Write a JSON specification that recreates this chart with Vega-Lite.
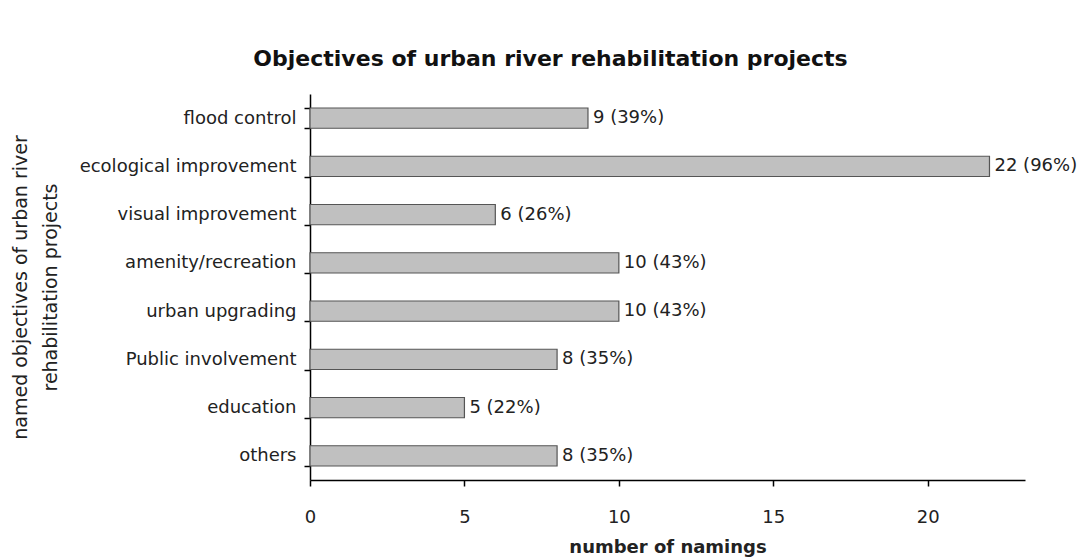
{
  "$schema": "https://vega.github.io/schema/vega-lite/v6.json",
  "autosize": "none",
  "width": 715,
  "height": 386,
  "padding": {"left": 310, "top": 94, "right": 64, "bottom": 79},
  "background": "white",
  "title": {
    "text": "Objectives of urban river rehabilitation projects",
    "font": "DejaVu Sans",
    "fontSize": 22,
    "fontWeight": "bold",
    "color": "#111111",
    "anchor": "middle",
    "frame": "group",
    "dx": -117,
    "offset": 14
  },
  "config": {
    "view": {"stroke": null},
    "font": "DejaVu Sans"
  },
  "data": {
    "values": [
      {"objective": "flood control", "count": 9, "label": "9 (39%)"},
      {"objective": "ecological improvement", "count": 22, "label": "22 (96%)"},
      {"objective": "visual improvement", "count": 6, "label": "6 (26%)"},
      {"objective": "amenity/recreation", "count": 10, "label": "10 (43%)"},
      {"objective": "urban upgrading", "count": 10, "label": "10 (43%)"},
      {"objective": "Public involvement", "count": 8, "label": "8 (35%)"},
      {"objective": "education", "count": 5, "label": "5 (22%)"},
      {"objective": "others", "count": 8, "label": "8 (35%)"}
    ]
  },
  "encoding": {
    "y": {
      "field": "objective",
      "type": "nominal",
      "sort": null,
      "scale": {"paddingInner": 0.58, "paddingOuter": 0.29},
      "axis": {
        "title": ["named objectives of urban river", "rehabilitation projects"],
        "titleFont": "DejaVu Sans",
        "titleFontSize": 19,
        "titleFontWeight": "normal",
        "titleColor": "#222222",
        "titlePadding": 50,
        "titleLineHeight": 30,
        "labelFont": "DejaVu Sans",
        "labelFontSize": 18,
        "labelColor": "#222222",
        "labelPadding": 8,
        "labelLimit": 400,
        "tickBand": "extent",
        "tickSize": 6,
        "tickColor": "#000000",
        "domainColor": "#000000",
        "domainWidth": 1.5,
        "tickWidth": 1.5
      }
    },
    "x": {
      "field": "count",
      "type": "quantitative",
      "scale": {"domain": [0, 23.15], "nice": false},
      "axis": {
        "title": "number of namings",
        "titleFont": "DejaVu Sans",
        "titleFontSize": 18,
        "titleFontWeight": "bold",
        "titleColor": "#222222",
        "titlePadding": 12,
        "values": [0, 5, 10, 15, 20],
        "grid": false,
        "labelFlush": false,
        "labelFont": "DejaVu Sans",
        "labelFontSize": 18,
        "labelColor": "#222222",
        "labelPadding": 22,
        "tickSize": 6,
        "tickColor": "#000000",
        "domainColor": "#000000",
        "domainWidth": 1.5,
        "tickWidth": 1.5
      }
    }
  },
  "layer": [
    {
      "mark": {"type": "bar", "fill": "#c0c0c0", "stroke": "#555555", "strokeWidth": 1.2}
    },
    {
      "mark": {"type": "text", "align": "left", "baseline": "middle", "dx": 5, "font": "DejaVu Sans", "fontSize": 18, "color": "#222222"},
      "encoding": {"text": {"field": "label"}}
    }
  ]
}
